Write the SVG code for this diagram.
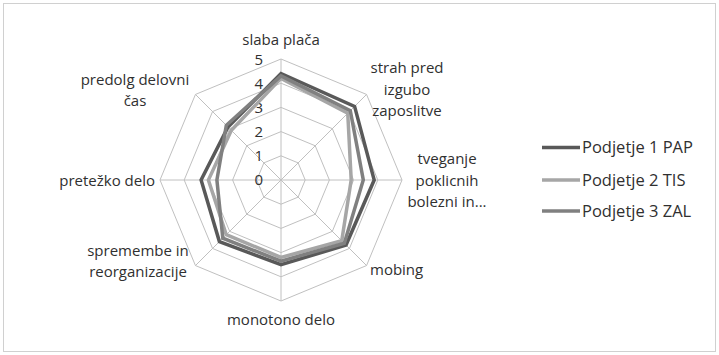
<svg xmlns="http://www.w3.org/2000/svg" width="719" height="355" viewBox="0 0 719 355">
<style>
text{font-family:"Open Sans","Liberation Sans",sans-serif;font-size:15px;fill:#303030}
.grid{fill:none;stroke:#c0c0c0;stroke-width:1}
.ser{fill:none;stroke-width:3.5;stroke-linejoin:miter}
.s1{stroke:#595959}
.s2{stroke:#a6a6a6}
.s3{stroke:#808080}
.c{text-anchor:middle}
.e{text-anchor:end}
.lg{font-size:16.5px}
</style>
<rect x="0" y="0" width="719" height="355" fill="#ffffff"/>
<rect x="3.5" y="3.5" width="712" height="348" fill="none" stroke="#d0d0d0" stroke-width="1"/>
<g id="grid">
<polygon class="grid" points="281,155.8 298.11,162.89 305.2,180 298.11,197.11 281,204.2 263.89,197.11 256.8,180 263.89,162.89"/>
<polygon class="grid" points="281,131.6 315.22,145.78 329.4,180 315.22,214.22 281,228.4 246.78,214.22 232.6,180 246.78,145.78"/>
<polygon class="grid" points="281,107.4 332.34,128.66 353.6,180 332.34,231.34 281,252.6 229.66,231.34 208.4,180 229.66,128.66"/>
<polygon class="grid" points="281,83.2 349.45,111.55 377.8,180 349.45,248.45 281,276.8 212.55,248.45 184.2,180 212.55,111.55"/>
<polygon class="grid" points="281,59 366.56,94.44 402,180 366.56,265.56 281,301 195.44,265.56 160,180 195.44,94.44"/>
<path class="grid" d="M281,180L281,59M281,180L366.56,94.44M281,180L402,180M281,180L366.56,265.56M281,180L281,301M281,180L195.44,265.56M281,180L160,180M281,180L195.44,94.44"/>
</g>
<g id="ticks">
<text class="e" x="263" y="64.5">5</text>
<text class="e" x="263" y="88.5">4</text>
<text class="e" x="263" y="112.5">3</text>
<text class="e" x="263" y="137">2</text>
<text class="e" x="263" y="161">1</text>
<text class="e" x="263" y="185">0</text>
</g>
<g id="series">
<polygon class="ser s1" points="281,73.5 354.6,106.4 374.2,180 346.05,245.05 281,264.7 219.4,241.6 201.1,180 228,127"/>
<polygon class="ser s2" points="281,78.4 347.75,113.25 351.2,180 341.74,240.74 281,257.4 226.27,234.73 208.4,180 231.36,130.36"/>
<polygon class="ser s3" points="281,75.9 350.3,110.7 363.3,180 344.3,243.3 281,261.1 222.8,238.2 216.9,180 226.3,125.3"/>
</g>
<g id="axis-labels">
<g id="n-slaba"><text class="c" x="281" y="45">slaba plača</text></g>
<g id="n-strah"><text class="c" x="407" y="73">strah pred</text><text class="c" x="407" y="95">izgubo</text><text class="c" x="407" y="116">zaposlitve</text></g>
<g id="n-tveganje"><text class="c" x="447" y="164">tveganje</text><text class="c" x="447" y="186">poklicnih</text><text class="c" x="447" y="207">bolezni in...</text></g>
<g id="n-mobing"><text x="370" y="275">mobing</text></g>
<g id="n-monotono"><text class="c" x="281" y="325">monotono delo</text></g>
<g id="n-spremembe"><text class="c" x="138" y="256">spremembe in</text><text class="c" x="138" y="277">reorganizacije</text></g>
<g id="n-pretezko"><text class="e" x="155" y="186">pretežko delo</text></g>
<g id="n-predolg"><text class="c" x="135" y="85">predolg delovni</text><text class="c" x="135" y="106">čas</text></g>
</g>
<g id="legend">
<line class="ser s1" x1="542" y1="147.5" x2="580" y2="147.5"/>
<text class="lg" x="582" y="153">Podjetje 1 PAP</text>
<line class="ser s2" x1="542" y1="180" x2="580" y2="180"/>
<text class="lg" x="582" y="185.5">Podjetje 2 TIS</text>
<line class="ser s3" x1="542" y1="211" x2="580" y2="211"/>
<text class="lg" x="582" y="216.5">Podjetje 3 ZAL</text>
</g>
</svg>
